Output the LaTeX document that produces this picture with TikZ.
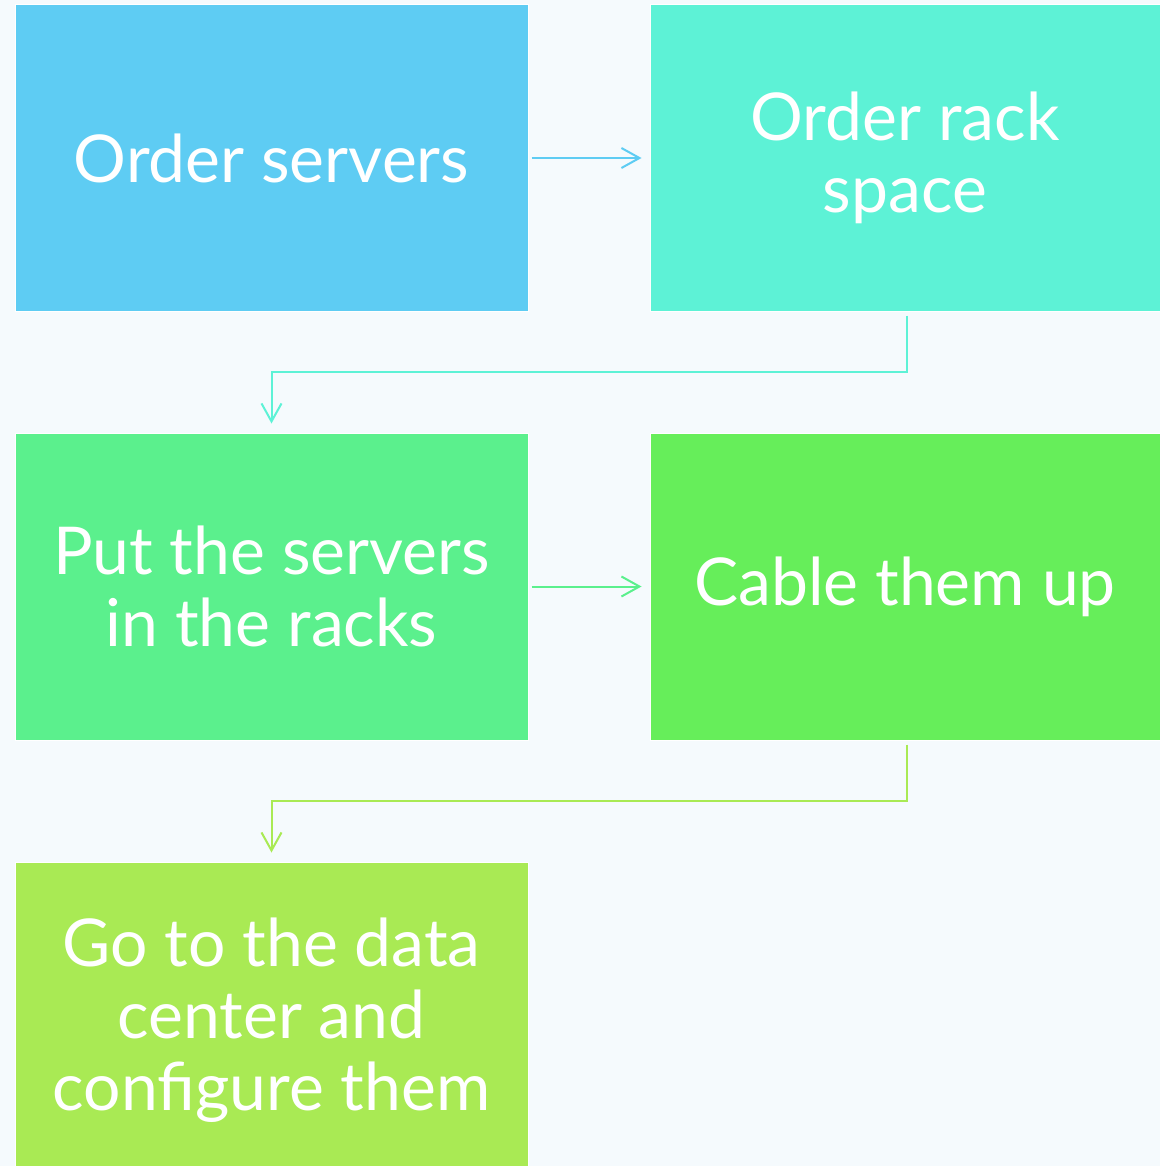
\documentclass[tikz,border=0pt]{standalone}
\usepackage{fontspec}
\setmainfont{Lato}
\usetikzlibrary{arrows.meta}
\definecolor{bg}{HTML}{F5FAFD}
\definecolor{cOne}{HTML}{5ECCF3}
\definecolor{cTwo}{HTML}{5DF2D6}
\definecolor{cThree}{HTML}{5BF08D}
\definecolor{cFour}{HTML}{66EE5A}
\definecolor{cFive}{HTML}{A9EA54}
\tikzset{
  stepbox/.style={draw=white,line width=1pt,inner sep=0pt,align=center,text=white,
    font=\fontsize{66}{72}\selectfont},
  flow/.style={line width=2pt,-{Straight Barb[length=18pt,width=20pt,line width=2pt]}}
}

\begin{document}
\begin{tikzpicture}[x=1pt,y=-1pt]
  \fill[bg] (0,0) rectangle (1160,1166);
  \useasboundingbox (0,0) rectangle (1160,1166);
  % top row
  \node (srv) at (271.5,158) [stepbox,fill=cOne,minimum width=513pt,minimum height=306pt] {Order servers};
  \node (rack) at (905,158) [stepbox,fill=cTwo,minimum width=510pt,minimum height=306pt] {Order rack\\space};
  % middle row
  \node (put) at (271.5,586.5) [stepbox,fill=cThree,minimum width=513pt,minimum height=307pt] {Put the servers\\in the racks};
  \node (cable) at (905,586.5) [stepbox,fill=cFour,minimum width=510pt,minimum height=307pt] {Cable them up};
  % bottom
  \node (conf) at (271.5,1014) [stepbox,fill=cFive,minimum width=513pt,minimum height=304pt,text depth=0pt] {Go to the data\\center and\\configure them};
  \coordinate (bendA) at (271.5,372);
  \coordinate (bendB) at (271.5,801);
  \draw[flow,draw=cOne,shorten <=3pt,shorten >=8pt] (srv) -- (rack);
  \draw[flow,draw=cTwo,shorten <=4pt,shorten >=9pt] ([xshift=2pt]rack.south) |- (bendA) -- (put.north);
  \draw[flow,draw=cThree,shorten <=3pt,shorten >=8pt] (put) -- (cable);
  \draw[flow,draw=cFive,shorten <=4pt,shorten >=9pt] ([xshift=2pt]cable.south) |- (bendB) -- (conf.north);
\end{tikzpicture}
\end{document}
